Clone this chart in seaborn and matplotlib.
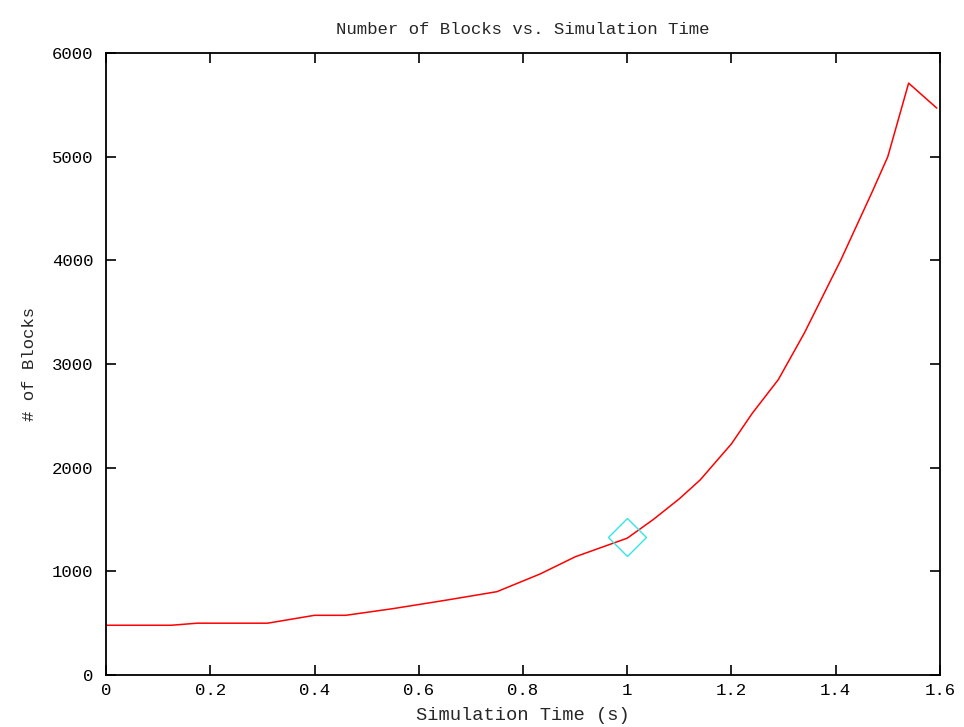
import matplotlib
matplotlib.use('Agg')
import matplotlib.pyplot as plt
import seaborn as sns
import pandas as pd

sns.set_style("white")
plt.rcParams['font.family'] = ['Liberation Mono', 'DejaVu Sans Mono']

# data
sim_time = [0.0, 0.125, 0.175, 0.31, 0.40, 0.46, 0.55, 0.65, 0.75, 0.833,
            0.90, 0.95, 1.0, 1.05, 1.10, 1.14, 1.20, 1.24, 1.29, 1.34,
            1.41, 1.47, 1.50, 1.54, 1.594]
num_blocks = [480, 480, 500, 500, 576, 576, 640, 720, 804, 975,
              1140, 1230, 1320, 1500, 1700, 1882, 2230, 2525, 2850, 3300,
              4005, 4660, 5000, 5710, 5469]
marker_time = [1.0]
marker_blocks = [1330]

x_ticks = [0, 0.2, 0.4, 0.6, 0.8, 1.0, 1.2, 1.4, 1.6]
x_tick_labels = ['0', '0.2', '0.4', '0.6', '0.8', '1', '1.2', '1.4', '1.6']
y_ticks = [0, 1000, 2000, 3000, 4000, 5000, 6000]

df = pd.DataFrame({'t': sim_time, 'n': num_blocks})

fig = plt.figure(figsize=(9.64, 7.27), dpi=100)
ax = fig.add_axes([0.110, 0.0715, 0.865, 0.8555])

sns.lineplot(data=df, x='t', y='n', color='#ff0000', linewidth=1.1, ax=ax)
ax.plot(marker_time, marker_blocks, linestyle='none', marker='D', markersize=19.5,
        markerfacecolor='none', markeredgecolor='#33e6e6', markeredgewidth=1.0)

ax.set_xlim(0, 1.6)
ax.set_ylim(0, 6000)
ax.set_xticks(x_ticks)
ax.set_xticklabels(x_tick_labels)
ax.set_yticks(y_ticks)
ax.tick_params(direction='in', length=7.5, width=1.2, top=True, right=True,
               bottom=True, left=True, labelsize=12.5, colors='black')
ax.tick_params(axis='y', pad=9)
ax.tick_params(axis='x', pad=6)
for s in ax.spines.values():
    s.set_color('black')
    s.set_linewidth(1.3)

ax.set_title('Number of Blocks vs. Simulation Time', fontsize=12.5, pad=14)
ax.set_xlabel('Simulation Time (s)', fontsize=13.5, labelpad=6)
ax.set_ylabel('# of Blocks', fontsize=12.5, labelpad=11)

fig.savefig('out.png', dpi=100, facecolor='white')
plt.close(fig)
